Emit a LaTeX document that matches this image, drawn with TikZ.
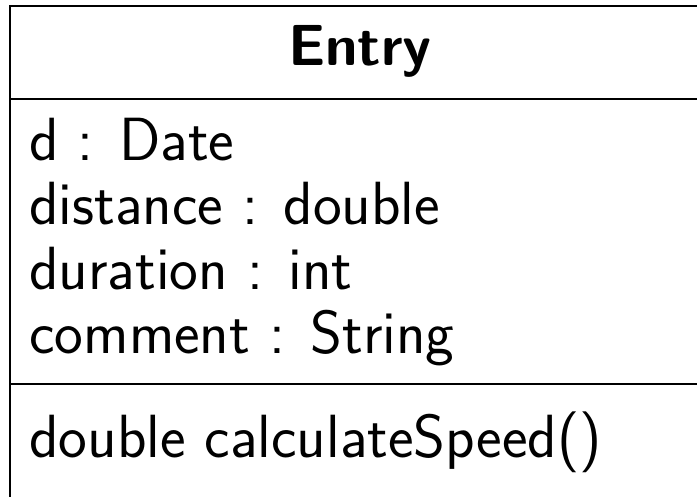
\documentclass[tikz,border=0pt]{standalone}
\begin{document}
\begin{tikzpicture}[x=0.5pt,y=-0.5pt,
  txt/.style={anchor=base west,inner sep=0pt,font=\sffamily\fontsize{30.5}{36}\selectfont},
  ttl/.style={anchor=base,inner sep=0pt,font=\sffamily\bfseries\fontsize{29}{35}\selectfont},
  border/.style={line width=1pt}]
\useasboundingbox (0,0) rectangle (697,497);
\clip (0,0) rectangle (697,497);
\draw[border] (10,6.5) rectangle (720,530);
\draw[border] (10,99) -- (720,99);
\draw[border] (10,384) -- (720,384);
\node[ttl] (title) at (360,66) {Entry};
\node[txt] (a1) at (29,161) {d : Date};
\node[txt] (a2) at (29,225) {distance : double};
\node[txt] (a3) at (29,290) {duration : int};
\node[txt] (a4) at (29,354) {comment : String};
\node[txt] (m1) at (29,458) {double calculateSpeed()};
\end{tikzpicture}
\end{document}
